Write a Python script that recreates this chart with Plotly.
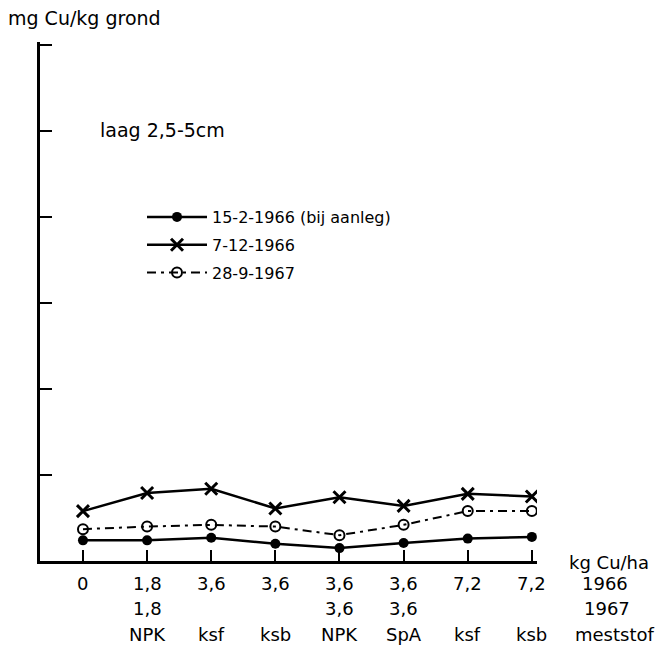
import plotly.graph_objects as go

# x positions (treatments) and labels
x_pos = [0, 1, 2, 3, 4, 5, 6, 7]
row1 = ["0", "1,8", "3,6", "3,6", "3,6", "3,6", "7,2", "7,2"]
row2 = ["", "1,8", "", "", "3,6", "3,6", "", ""]
row3 = ["", "NPK", "ksf", "ksb", "NPK", "SpA", "ksf", "ksb"]

# series values (mg Cu/kg grond, scale without printed numbers)
s_1966_feb = [2.4, 2.4, 2.7, 2.0, 1.5, 2.1, 2.6, 2.8]
s_1966_dec = [5.8, 7.9, 8.4, 6.1, 7.4, 6.4, 7.8, 7.5]
s_1967_sep = [3.7, 4.0, 4.2, 4.0, 3.0, 4.2, 5.8, 5.8]

names = ["15-2-1966 (bij aanleg)", "7-12-1966", "28-9-1967"]

FONT = "DejaVu Sans"
fig = go.Figure()

fig.add_trace(go.Scatter(
    x=x_pos, y=s_1966_feb, name=names[0], mode="lines+markers",
    line=dict(color="black", width=2.5),
    marker=dict(symbol="circle", size=10, color="black"),
    legendgroup="a"))
fig.add_trace(go.Scatter(
    x=x_pos, y=s_1966_dec, name=names[1], mode="lines+markers",
    line=dict(color="black", width=2.5),
    marker=dict(symbol="x-thin", size=12, color="black",
                line=dict(color="black", width=3)),
    legendgroup="b"))
fig.add_trace(go.Scatter(
    x=x_pos, y=s_1967_sep, name=names[2], mode="lines+markers",
    line=dict(color="black", width=2, dash="9px,5px,3px,5px"),
    marker=dict(symbol="circle-open", size=10, color="black",
                line=dict(color="black", width=2)),
    legendgroup="c"))

annotations = []
for xi, a, b, c in zip(x_pos, row1, row2, row3):
    for txt, shift in ((a, -22), (b, -47), (c, -73)):
        if txt:
            annotations.append(dict(
                x=xi, xref="x", y=0, yref="paper", yshift=shift,
                text=txt, showarrow=False, xanchor="center", yanchor="middle",
                font=dict(family=FONT, size=18, color="black")))

PH = 519.0  # plot height in px
right_labels = [("kg Cu/ha", 609, -1), ("1966", 605, -22), ("1967", 607, -47), ("meststof", 614, -73)]
for txt, px, shift in right_labels:
    annotations.append(dict(
        x=(px - 40) / 497, xref="paper", y=0, yref="paper", yshift=shift,
        text=txt, showarrow=False, xanchor="center", yanchor="middle",
        font=dict(family=FONT, size=18, color="black")))

annotations.append(dict(
    x=(6 - 40) / 497, xref="paper", y=(561 - 18) / PH, yref="paper",
    text="mg Cu/kg grond", showarrow=False, xanchor="left", yanchor="middle",
    font=dict(family=FONT, size=19, color="black")))
annotations.append(dict(
    x=(98 - 40) / 497, xref="paper", y=(561 - 130) / PH, yref="paper",
    text="laag 2,5-5cm", showarrow=False, xanchor="left", yanchor="middle",
    font=dict(family=FONT, size=19, color="black")))

fig.update_layout(
    width=669, height=650,
    margin=dict(l=40, r=132, t=42, b=89),
    paper_bgcolor="white", plot_bgcolor="white",
    font=dict(family=FONT, size=16, color="black"),
    showlegend=True,
    legend=dict(x=(142 - 40) / 497, y=(561 - 200) / PH, xanchor="left", yanchor="top",
                bgcolor="rgba(0,0,0,0)", font=dict(family=FONT, size=16),
                tracegroupgap=4, itemwidth=60),
    annotations=annotations,
    xaxis=dict(range=[-0.67, 7.08], showgrid=False, zeroline=False,
               showline=True, linecolor="black", linewidth=2.5,
               ticks="inside", tickvals=x_pos, ticklen=11, tickwidth=2,
               tickcolor="black", showticklabels=False),
    yaxis=dict(range=[0, 60.3], showgrid=False, zeroline=False,
               showline=True, linecolor="black", linewidth=2.5,
               ticks="inside", tickvals=[10, 20, 30, 40, 50, 60], ticklen=12,
               tickwidth=2, tickcolor="black", showticklabels=False),
)

fig.write_html("out.html")
